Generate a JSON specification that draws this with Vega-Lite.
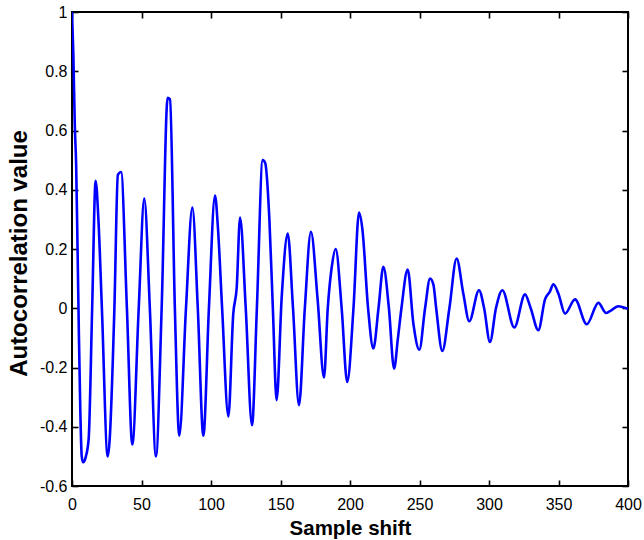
{
  "$schema": "https://vega.github.io/schema/vega-lite/v6.json",
  "width": 556,
  "height": 474,
  "autosize": "none",
  "padding": {"left": 72, "top": 12, "right": 16, "bottom": 54},
  "background": "white",
  "config": {
    "view": {"stroke": "black", "strokeWidth": 2},
    "font": "Liberation Sans",
    "axis": {"grid": false, "domain": false, "labelFlush": false, "labelOverlap": false, "tickColor": "black", "tickSize": -6, "tickWidth": 1.6, "labelColor": "black", "labelFontSize": 16, "labelFont": "Liberation Sans", "titleFont": "Liberation Sans", "titleFontWeight": "bold", "titleColor": "black"}
  },
  "data": {"values": [
    {"shift": 0, "r": 1.0}, {"shift": 1, "r": 0.85}, {"shift": 2, "r": 0.62}, {"shift": 3, "r": 0.48}, {"shift": 4, "r": 0.2},
    {"shift": 5, "r": -0.1}, {"shift": 6, "r": -0.35}, {"shift": 7, "r": -0.5}, {"shift": 8, "r": -0.52}, {"shift": 10, "r": -0.5},
    {"shift": 12, "r": -0.44}, {"shift": 14.5, "r": 0.0}, {"shift": 17, "r": 0.43}, {"shift": 19, "r": 0.3}, {"shift": 21.5, "r": 0.0},
    {"shift": 25.7, "r": -0.5}, {"shift": 27, "r": -0.45}, {"shift": 30.5, "r": 0.0}, {"shift": 33, "r": 0.45}, {"shift": 35.3, "r": 0.46},
    {"shift": 39.5, "r": 0.0}, {"shift": 43.4, "r": -0.46}, {"shift": 48, "r": 0.0}, {"shift": 52, "r": 0.37}, {"shift": 56, "r": 0.0},
    {"shift": 60.4, "r": -0.5}, {"shift": 64.5, "r": 0.0}, {"shift": 68.8, "r": 0.71}, {"shift": 70.5, "r": 0.705}, {"shift": 74, "r": 0.0},
    {"shift": 77.2, "r": -0.43}, {"shift": 82, "r": 0.0}, {"shift": 86.6, "r": 0.34}, {"shift": 90.5, "r": 0.0}, {"shift": 94.5, "r": -0.43},
    {"shift": 98.5, "r": 0.0}, {"shift": 102.9, "r": 0.38}, {"shift": 105, "r": 0.27}, {"shift": 108, "r": 0.0}, {"shift": 112.5, "r": -0.365},
    {"shift": 116, "r": -0.02}, {"shift": 118.5, "r": 0.07}, {"shift": 120.9, "r": 0.306}, {"shift": 125, "r": 0.0}, {"shift": 129.5, "r": -0.395},
    {"shift": 133, "r": 0.0}, {"shift": 137.2, "r": 0.5}, {"shift": 139, "r": 0.49}, {"shift": 142, "r": 0.3}, {"shift": 144.5, "r": 0.0},
    {"shift": 147.2, "r": -0.31}, {"shift": 150.9, "r": 0.04}, {"shift": 155.2, "r": 0.252}, {"shift": 159, "r": 0.0}, {"shift": 163.3, "r": -0.327},
    {"shift": 167.5, "r": 0.0}, {"shift": 171.9, "r": 0.258}, {"shift": 176.7, "r": 0.03}, {"shift": 181.3, "r": -0.234}, {"shift": 184, "r": 0.0},
    {"shift": 186.9, "r": 0.14}, {"shift": 189.7, "r": 0.2}, {"shift": 194, "r": 0.0}, {"shift": 198, "r": -0.249}, {"shift": 202.5, "r": 0.0},
    {"shift": 206.5, "r": 0.323}, {"shift": 209, "r": 0.263}, {"shift": 213, "r": 0.0}, {"shift": 216.8, "r": -0.136}, {"shift": 220.5, "r": 0.0},
    {"shift": 224, "r": 0.14}, {"shift": 228, "r": 0.0}, {"shift": 231.7, "r": -0.204}, {"shift": 234.5, "r": -0.1}, {"shift": 237, "r": 0.0},
    {"shift": 241.5, "r": 0.131}, {"shift": 245.6, "r": -0.052}, {"shift": 249.9, "r": -0.14}, {"shift": 254, "r": 0.0}, {"shift": 257.6, "r": 0.1},
    {"shift": 260, "r": 0.08}, {"shift": 262, "r": 0.0}, {"shift": 266.4, "r": -0.144}, {"shift": 271.5, "r": 0.0}, {"shift": 276.7, "r": 0.168},
    {"shift": 281.5, "r": 0.05}, {"shift": 285.8, "r": -0.044}, {"shift": 292.8, "r": 0.061}, {"shift": 296.5, "r": 0.0}, {"shift": 300.7, "r": -0.114},
    {"shift": 305, "r": 0.0}, {"shift": 309.6, "r": 0.061}, {"shift": 318.2, "r": -0.065}, {"shift": 325.9, "r": 0.047}, {"shift": 330, "r": 0.0},
    {"shift": 335.5, "r": -0.074}, {"shift": 340.3, "r": 0.03}, {"shift": 343.9, "r": 0.057}, {"shift": 346.3, "r": 0.081}, {"shift": 349.9, "r": 0.05},
    {"shift": 354.7, "r": -0.018}, {"shift": 361.9, "r": 0.03}, {"shift": 370.3, "r": -0.054}, {"shift": 378.7, "r": 0.018}, {"shift": 384.2, "r": -0.016},
    {"shift": 387, "r": -0.01}, {"shift": 393, "r": 0.007}, {"shift": 400, "r": -0.002}
  ]},
  "layer": [
    {
      "mark": {"type": "line", "color": "#0000ff", "strokeWidth": 2.6, "interpolate": "monotone", "clip": true},
      "encoding": {
        "x": {"field": "shift", "type": "quantitative", "scale": {"domain": [0, 400], "nice": false},
          "axis": {"orient": "bottom", "values": [0, 50, 100, 150, 200, 250, 300, 350, 400], "labelPadding": 16, "title": "Sample shift", "titleFontSize": 20.5, "titleBaseline": "alphabetic", "titleY": 48, "titleX": 278, "labelExpr": "toString(datum.value)"}},
        "y": {"field": "r", "type": "quantitative", "scale": {"domain": [-0.6, 1], "nice": false, "zero": false},
          "axis": {"orient": "left", "values": [-0.6, -0.4, -0.2, 0, 0.2, 0.4, 0.6, 0.8, 1], "labelPadding": 11, "title": "Autocorrelation value", "titleFontSize": 24, "titleBaseline": "alphabetic", "titleAngle": -90, "titleX": -46, "titleY": 241, "labelExpr": "toString(datum.value)"}}
      }
    },
    {
      "mark": {"type": "line", "strokeOpacity": 0},
      "encoding": {
        "x": {"field": "shift", "type": "quantitative",
          "axis": {"orient": "top", "values": [0, 50, 100, 150, 200, 250, 300, 350, 400], "labels": false, "title": null}},
        "y": {"field": "r", "type": "quantitative",
          "axis": {"orient": "right", "values": [-0.6, -0.4, -0.2, 0, 0.2, 0.4, 0.6, 0.8, 1], "labels": false, "title": null}}
      }
    }
  ],
  "resolve": {"axis": {"x": "independent", "y": "independent"}}
}
